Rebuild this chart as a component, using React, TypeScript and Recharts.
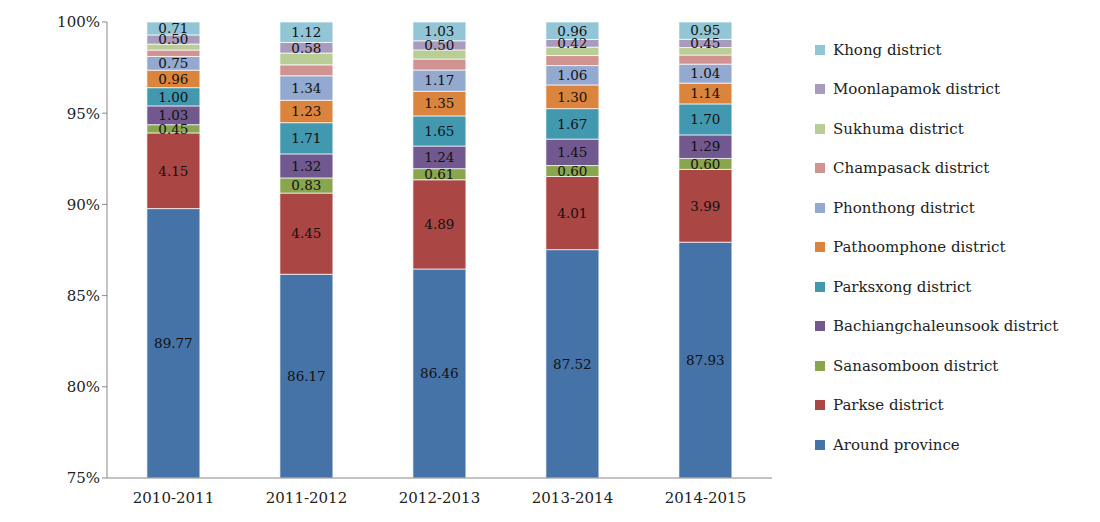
import { BarChart, Bar, XAxis, YAxis, LabelList } from 'recharts';

const years = ['2010-2011', '2011-2012', '2012-2013', '2013-2014', '2014-2015'];
const seriesNames = [
  'Around province', 'Parkse district', 'Sanasomboon district', 'Bachiangchaleunsook district',
  'Parksxong district', 'Pathoomphone district', 'Phonthong district', 'Champasack district',
  'Sukhuma district', 'Moonlapamok district', 'Khong district',
];
const colors = ['#4572A7', '#AA4643', '#89A54E', '#71588F', '#4198AF', '#DB843D', '#93A9CF', '#D19392', '#B9CD96', '#A99BBD', '#92C5D6'];
const around = [89.77, 86.17, 86.46, 87.52, 87.93];
const parkse = [4.15, 4.45, 4.89, 4.01, 3.99];
const sanasomboon = [0.45, 0.83, 0.61, 0.6, 0.6];
const bachiang = [1.03, 1.32, 1.24, 1.45, 1.29];
const parksxong = [1.0, 1.71, 1.65, 1.67, 1.7];
const pathoomphone = [0.96, 1.23, 1.35, 1.3, 1.14];
const phonthong = [0.75, 1.34, 1.17, 1.06, 1.04];
const champasack = [0.35, 0.6, 0.6, 0.55, 0.5];
const sukhuma = [0.33, 0.65, 0.5, 0.46, 0.41];
const moonlapamok = [0.5, 0.58, 0.5, 0.42, 0.45];
const khong = [0.71, 1.12, 1.03, 0.96, 0.95];
const allSeries = [around, parkse, sanasomboon, bachiang, parksxong, pathoomphone, phonthong, champasack, sukhuma, moonlapamok, khong];
const unlabeled = [7, 8];

const data = years.map((y, i) => {
  const row: any = { year: y };
  allSeries.forEach((s, k) => { row['s' + k] = s[i]; });
  return row;
});

const font = 'DejaVu Serif, serif';

export default function App() {
  return (
    <div style={{ position: 'relative', width: 1084, height: 506, fontFamily: font }}>
      <BarChart width={1084} height={506} data={data} margin={{ top: 14, right: 320, left: 0, bottom: 0 }} barCategoryGap="30%">
        <XAxis dataKey="year" tickLine={false} stroke="#888" height={36}
          tick={{ fill: '#222', fontSize: 15, fontFamily: font }} tickMargin={8} />
        <YAxis width={99} domain={[75, 100]} ticks={[75, 80, 85, 90, 95, 100]} allowDataOverflow
          tickFormatter={(v) => v + '%'} stroke="#888" tickSize={5}
          tick={{ fill: '#222', fontSize: 15, fontFamily: font }} />
        {seriesNames.map((n, k) => (
          <Bar key={n} dataKey={'s' + k} name={n} stackId="a" fill={colors[k]} stroke="#fff" strokeWidth={0.7} isAnimationActive={false}>
            {!unlabeled.includes(k) && (
              <LabelList dataKey={'s' + k} position="center" formatter={(v: any) => Number(v).toFixed(2)}
                style={{ fill: '#111', fontSize: 13.5, fontFamily: font }} />
            )}
          </Bar>
        ))}
      </BarChart>
      <div style={{ position: 'absolute', left: 807, top: 22 }}>
        {seriesNames.slice().reverse().map((n, i) => (
          <div key={n} style={{ display: 'flex', alignItems: 'center', height: 39.5, fontSize: 15, color: '#222' }}>
            <span style={{ width: 10, height: 10, background: colors[colors.length - 1 - i], marginRight: 8 }} />
            {n}
          </div>
        ))}
      </div>
    </div>
  );
}
